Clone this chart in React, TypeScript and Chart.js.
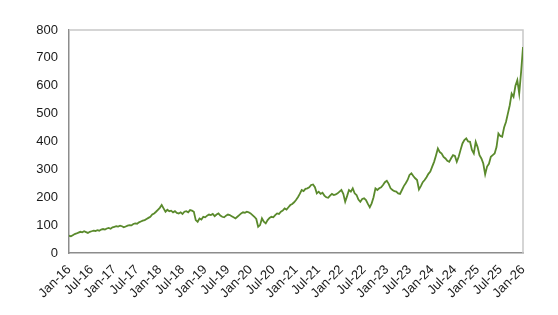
import React, { useEffect, useRef } from "react";
import { Chart, registerables } from "chart.js";

Chart.register(...registerables);

const tickLabels = [
  "Jan-16", "Jul-16", "Jan-17", "Jul-17", "Jan-18", "Jul-18", "Jan-19", "Jul-19",
  "Jan-20", "Jul-20", "Jan-21", "Jul-21", "Jan-22", "Jul-22", "Jan-23", "Jul-23",
  "Jan-24", "Jul-24", "Jan-25", "Jul-25", "Jan-26",
];

const yTicks = [0, 100, 200, 300, 400, 500, 600, 700, 800];

// Half-monthly readings from Jan-16 to Jan-26
const prices = [
  // 2016
  62, 60, 64, 68, 70, 73, 76, 74, 78, 75, 72, 76, 78, 80, 79, 82, 80, 84, 86, 84, 88, 90, 87, 92,
  // 2017
  94, 96, 95, 98, 96, 92, 95, 98, 100, 99, 104, 106, 105, 110, 113, 116, 118, 122, 126, 130, 138, 142, 148, 155,
  // 2018
  162, 172, 160, 148, 155, 150, 152, 146, 150, 144, 142, 146, 140, 148, 150, 146, 154, 152, 148, 118, 112, 124, 120, 130,
  // 2019
  128, 134, 138, 136, 140, 132, 138, 142, 134, 130, 128, 134, 138, 136, 132, 128, 124, 130, 136, 142, 146, 144, 148, 146,
  // 2020
  142, 136, 130, 122, 94, 100, 124, 112, 106, 118, 126, 130, 128, 136, 142, 140, 148, 152, 160, 156, 164, 172, 176, 182,
  // 2021
  190, 200, 212, 226, 222, 230, 232, 236, 244, 246, 236, 214, 220, 212, 216, 206, 200, 198, 206, 212, 208, 210, 214, 220,
  // 2022
  226, 212, 184, 204, 226, 220, 232, 214, 208, 192, 184, 194, 196, 190, 176, 164, 178, 200, 232, 226, 232, 236, 244, 254,
  // 2023
  259, 248, 232, 226, 222, 220, 214, 212, 226, 240, 250, 262, 280, 286, 276, 268, 262, 228, 240, 254, 262, 272, 284, 292,
  // 2024
  310, 327, 350, 375, 362, 357, 345, 339, 331, 327, 340, 351, 348, 327, 345, 370, 393, 405, 411, 400, 399, 370, 357, 399,
  // 2025
  380, 351, 339, 321, 282, 310, 320, 345, 351, 357, 380, 429, 420, 417, 450, 470, 500, 530, 572, 560, 600, 620, 572, 650,
  // Jan-26
  739,
];

const FONT = { family: "'Liberation Sans', Arial, sans-serif", size: 13 };

export default function App() {
  const ref = useRef<HTMLCanvasElement>(null);

  useEffect(() => {
    document.body.style.margin = "0";
    const canvas = ref.current;
    if (!canvas) return;
    const data = prices.map((y, i) => ({ x: i * 0.5, y }));

    const frame = {
      id: "frame",
      beforeDatasetsDraw(chart: any) {
        const { ctx, chartArea: a } = chart;
        ctx.save();
        ctx.strokeStyle = "#c8c8c8";
        ctx.lineWidth = 1.5;
        ctx.beginPath();
        ctx.moveTo(a.left, a.top);
        ctx.lineTo(a.right, a.top);
        ctx.lineTo(a.right, a.bottom);
        ctx.stroke();
        ctx.restore();
      },
    };

    const chart = new Chart(canvas, {
      type: "line",
      data: {
        datasets: [
          {
            data,
            borderColor: "#5a8a2c",
            borderWidth: 1.8,
            pointRadius: 0,
            tension: 0,
            fill: false,
          },
        ],
      },
      options: {
        responsive: false,
        animation: false,
        layout: { padding: { top: 30, right: 35, left: 0, bottom: 0 } },
        plugins: { legend: { display: false }, tooltip: { enabled: false } },
        scales: {
          x: {
            type: "linear",
            min: 0,
            max: 120,
            afterBuildTicks: (s: any) => {
              s.ticks = tickLabels.map((_, i) => ({ value: i * 6 }));
            },
            ticks: {
              autoSkip: false,
              maxRotation: 45,
              minRotation: 45,
              padding: 9,
              color: "#1a1a1a",
              font: FONT,
              callback: (v: any) => tickLabels[Math.round(Number(v) / 6)],
            },
            grid: { display: false, drawTicks: false },
            border: { display: true, color: "#8c8c8c", width: 1.5 },
            afterFit: (s: any) => {
              s.height = 62;
            },
          },
          y: {
            min: 0,
            max: 800,
            afterBuildTicks: (s: any) => {
              s.ticks = yTicks.map((v) => ({ value: v }));
            },
            ticks: {
              padding: 11,
              color: "#1a1a1a",
              font: FONT,
            },
            grid: { display: false, drawTicks: false },
            border: { display: true, color: "#8c8c8c", width: 1.5 },
            afterFit: (s: any) => {
              s.width = 69;
            },
          },
        },
      },
      plugins: [frame],
    });
    return () => chart.destroy();
  }, []);

  return (
    <div style={{ width: 558, height: 315 }}>
      <canvas ref={ref} width={558} height={315} style={{ display: "block" }} />
    </div>
  );
}
